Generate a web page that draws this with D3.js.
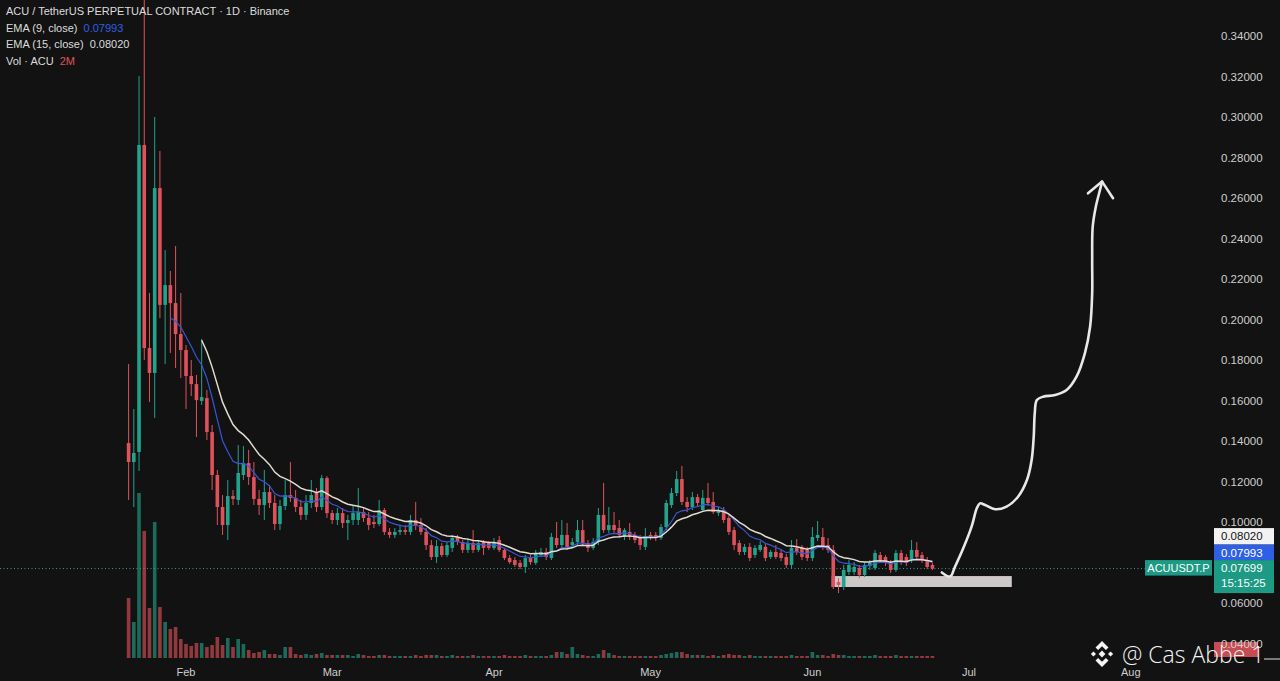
<!DOCTYPE html>
<html><head><meta charset="utf-8">
<script src="https://cdn.jsdelivr.net/npm/d3@7"></script>
<style>html,body{margin:0;padding:0;background:#121212;overflow:hidden}svg{display:block}</style>
</head><body>
<svg id="c" width="1280" height="681"></svg>
<script>
// ---------- DATA ----------
const startDay = Date.UTC(2025, 0, 21); // first daily candle
const opens = [
.1390,.1296,.1346,.2862,.1859,.1736,.2649,.2072,.2170,.2081,
.1928,.1849,.1721,.1681,.1598,.1612,.1444,.1232,.1074,.0985,
.1128,.1109,.1232,.1291,.1222,.1114,.1084,.1148,.1094,.0990,
.1079,.1133,.1119,.1074,.1035,.1094,.1143,.1074,.1217,.1044,
.1010,.1044,.0995,.1010,.1010,.1049,.1020,.1000,.0990,.1059,
.0951,.0936,.0951,.0960,.0951,.1010,.0985,.0951,.0886,.0827,
.0881,.0837,.0872,.0926,.0901,.0862,.0896,.0862,.0901,.0896,
.0872,.0911,.0862,.0822,.0812,.0798,.0778,.0822,.0798,.0837,
.0852,.0822,.0921,.0886,.0936,.0886,.0901,.0960,.0896,.0872,
.0901,.1035,.0960,.0985,.0970,.0926,.0951,.0936,.0921,.0877,
.0936,.0936,.0921,.0975,.1084,.1143,.1212,.1099,.1074,.1123,
.1059,.1119,.1099,.1044,.1059,.1020,.0960,.0896,.0852,.0877,
.0837,.0862,.0877,.0827,.0852,.0847,.0827,.0788,.0872,.0872,
.0862,.0822,.0921,.0926,.0886,.0862,.0704,.0679,.0753,.0753,
.0773,.0738,.0783,.0773,.0837,.0827,.0798,.0763,.0847,.0827,
.0812,.0862,.0837,.0812,.0788];
const highs = [
.1780,.1558,.3202,.3620,.2131,.3000,.2832,.2343,.2240,.2363,
.2131,.1874,.1800,.1726,.1904,.1652,.1479,.1257,.1133,.1207,
.1158,.1380,.1375,.1356,.1296,.1158,.1257,.1183,.1133,.1109,
.1207,.1296,.1158,.1109,.1133,.1207,.1168,.1232,.1227,.1059,
.1069,.1069,.1035,.1084,.1168,.1069,.1049,.1035,.1109,.1069,
.0970,.0970,.0985,.0985,.1035,.1099,.1020,.0970,.0911,.0911,
.0896,.0901,.0936,.0936,.0911,.0921,.0960,.0911,.0911,.0906,
.0921,.0931,.0872,.0837,.0827,.0812,.0837,.0837,.0862,.0872,
.0872,.0946,.1000,.1010,.0995,.0921,.1010,.1010,.0911,.0921,
.1069,.1193,.1074,.1049,.1010,.0970,.0995,.0951,.0936,.0970,
.0951,.0951,.0990,.1109,.1168,.1252,.1277,.1123,.1148,.1138,
.1158,.1193,.1148,.1074,.1074,.1035,.0975,.0911,.0891,.0896,
.0886,.0906,.0891,.0862,.0886,.0862,.0842,.0911,.0916,.0886,
.0877,.0975,.1005,.0970,.0921,.0886,.0723,.0788,.0812,.0802,
.0788,.0802,.0812,.0862,.0852,.0837,.0812,.0862,.0862,.0842,
.0911,.0901,.0852,.0827,.0798];
const lows = [
.1109,.1074,.1252,.1800,.1593,.1514,.2007,.1780,.1835,.1760,
.1711,.1558,.1622,.1420,.1578,.1405,.1158,.0985,.0936,.0911,
.1084,.1084,.1207,.1183,.1084,.1035,.1010,.1069,.0960,.0960,
.1059,.1099,.1049,.1010,.1010,.1069,.1049,.1059,.1020,.0990,
.0985,.0970,.0911,.0985,.0985,.1000,.0960,.0970,.0980,.0936,
.0921,.0921,.0936,.0936,.0936,.0960,.0936,.0862,.0812,.0798,
.0827,.0827,.0852,.0886,.0847,.0847,.0847,.0852,.0837,.0862,
.0862,.0852,.0812,.0793,.0778,.0768,.0748,.0788,.0788,.0827,
.0812,.0812,.0872,.0872,.0862,.0872,.0886,.0881,.0852,.0862,
.0886,.0946,.0946,.0946,.0921,.0911,.0911,.0896,.0862,.0862,
.0911,.0906,.0911,.0960,.1069,.1128,.1084,.1049,.1059,.1079,
.1049,.1079,.1040,.1030,.0995,.0936,.0862,.0837,.0837,.0807,
.0822,.0852,.0807,.0817,.0817,.0807,.0773,.0773,.0837,.0812,
.0807,.0807,.0906,.0862,.0847,.0669,.0649,.0664,.0738,.0738,
.0723,.0728,.0763,.0763,.0798,.0783,.0748,.0753,.0788,.0783,
.0798,.0812,.0798,.0768,.0763];
const closes = [
.1296,.1341,.2862,.1859,.1736,.2649,.2072,.2170,.2081,.1928,
.1849,.1721,.1681,.1602,.1617,.1444,.1232,.1074,.0985,.1128,
.1114,.1242,.1291,.1222,.1114,.1084,.1148,.1094,.0990,.1079,
.1133,.1119,.1074,.1035,.1094,.1133,.1074,.1217,.1044,.1010,
.1044,.0995,.1010,.1044,.1049,.1020,.0985,.0990,.1059,.0951,
.0936,.0951,.0960,.0951,.1010,.0985,.0951,.0886,.0827,.0881,
.0837,.0886,.0921,.0901,.0862,.0896,.0862,.0896,.0872,.0872,
.0901,.0862,.0822,.0802,.0788,.0778,.0822,.0802,.0847,.0852,
.0827,.0926,.0886,.0936,.0877,.0901,.0960,.0896,.0872,.0901,
.1035,.0960,.0985,.0960,.0936,.0960,.0926,.0911,.0886,.0931,
.0926,.0921,.0975,.1094,.1143,.1212,.1099,.1074,.1123,.1094,
.1119,.1094,.1049,.1059,.1010,.0951,.0886,.0852,.0877,.0822,
.0872,.0886,.0822,.0852,.0827,.0822,.0788,.0872,.0852,.0827,
.0822,.0926,.0936,.0877,.0862,.0679,.0689,.0763,.0788,.0778,
.0738,.0788,.0798,.0847,.0812,.0798,.0763,.0847,.0802,.0798,
.0862,.0827,.0812,.0778,.0770];
const volumes = [ // millions
60,36,165,127,50,136,51,36,29,31,
19,14,12,15,15,11,13,21,13,20,
11,19,14,8,5,6,8,4,4,3,
11,11,4,3,4,3,4,5,3,3,
3,3,3,2,4,3,2,2,3,3,
2,2,2,2,2,3,2,3,3,3,
2,2,3,2,2,2,3,2,2,2,
2,2,3,2,2,2,3,2,2,2,
2,3,6,6,4,11,4,3,2,2,
4,8,5,3,2,2,2,2,2,2,
2,2,3,4,5,6,6,4,3,3,
3,2,3,2,3,4,3,3,2,3,
2,2,2,2,2,2,2,3,2,2,
2,6,3,3,2,4,3,3,2,2,
2,2,2,3,2,2,2,3,2,2,
2,2,2,2,2];
const priceTicks = [0.04,0.06,0.10,0.12,0.14,0.16,0.18,0.20,0.22,0.24,0.26,0.28,0.30,0.32,0.34,0.36];
const monthTicks = ["2025-02-01","2025-03-01","2025-04-01","2025-05-01","2025-06-01","2025-07-01","2025-08-01"];
const monthLabels = ["Feb","Mar","Apr","May","Jun","Jul","Aug"];
const legendTitle = "ACU / TetherUS PERPETUAL CONTRACT · 1D · Binance";
const ema9Shown = "0.07993", ema15Shown = "0.08020", lastShown = "0.07699", countdown = "15:15:25", volShown = "2M";
const symbolTag = "ACUUSDT.P";
// support zone [dayStart, dayEnd, priceLow, priceHigh]
const zone = [134.7, 169.2, 0.0679, 0.0733];
// hand-drawn projection [day offset, price]
const arrowPath = [[155.8,.0751],[157.4,.0731],[158.3,.0778],[159.9,.0870],[161.5,.0977],[162.5,.1068],[163.1,.1092],[164.1,.1084],[166.0,.1063],[168.2,.1076],[170.4,.1125],[172.1,.1207],[173.0,.1306],[173.4,.1421],[173.6,.1537],[174.0,.1602],[175.2,.1619],[177.5,.1627],[179.7,.1652],[181.6,.1718],[183.2,.1833],[184.2,.1964],[184.6,.2129],[184.6,.2294],[184.7,.2458],[185.3,.2557],[186.1,.2640],[186.5,.2681]];
const arrowHead = [[183.8,.2623],[186.5,.2681],[188.6,.2599]];

// ---------- SCALES ----------
const DAY = 864e5;
const dayDate = d => new Date(startDay + d * DAY);
const x = d3.scaleUtc().domain([dayDate(0), dayDate(192)]).range([128.6, 1130.8]);
const y = d3.scaleLinear().domain([0.06, 0.34]).range([603, 36]);
const yv = d3.scaleLinear().domain([0, 200]).range([658, 458]);
const X = d => x(dayDate(d));

const GREEN = "#22a38c", RED = "#e0525b";
const svg = d3.select("#c");
svg.append("rect").attr("width",1280).attr("height",681).attr("fill","#121212");

const candles = opens.map((o,i)=>({i, o, h:highs[i], l:lows[i], c:closes[i], v:volumes[i], up: closes[i] >= o}));

// EMA
function ema(vals, n){
  const out = []; const k = 2/(n+1); let prev = null;
  vals.forEach((v,i)=>{
    if (i < n-1) return;
    if (prev === null) prev = d3.mean(vals.slice(0,n));
    else prev = v*k + prev*(1-k);
    out.push({i, v: prev});
  });
  return out;
}
const ema9 = ema(closes, 9), ema15 = ema(closes, 15);

// volume
const bw = 3.6;
svg.append("g").selectAll("rect").data(candles).join("rect")
  .attr("x", d => X(d.i) - bw/2).attr("width", bw)
  .attr("y", d => yv(d.v)).attr("height", d => yv(0) - yv(d.v))
  .attr("fill", d => d.up ? GREEN : RED).attr("opacity", 0.62);

// support zone
svg.append("rect")
  .attr("x", X(zone[0])).attr("width", X(zone[1]) - X(zone[0]))
  .attr("y", y(zone[3])).attr("height", y(zone[2]) - y(zone[3]))
  .attr("fill", "#cdc9c9");

// current price dotted line
svg.append("line").attr("x1",0).attr("x2",1214).attr("y1",y(closes[closes.length-1])).attr("y2",y(closes[closes.length-1]))
  .attr("stroke","#26a69a").attr("stroke-width",1).attr("stroke-dasharray","1,2.5");

// candles
const cg = svg.append("g");
cg.selectAll("line").data(candles).join("line")
  .attr("x1", d=>X(d.i)).attr("x2", d=>X(d.i))
  .attr("y1", d=>y(d.h)).attr("y2", d=>y(d.l))
  .attr("stroke", d=>d.up?GREEN:RED).attr("stroke-width",1);
cg.selectAll("rect").data(candles).join("rect")
  .attr("x", d=>X(d.i)-bw/2).attr("width", bw)
  .attr("y", d=>y(Math.max(d.o,d.c)))
  .attr("height", d=>Math.max(1, Math.abs(y(d.o)-y(d.c))))
  .attr("fill", d=>d.up?GREEN:RED);

// EMA lines
const ln = d3.line().x(d=>X(d.i)).y(d=>y(d.v));
svg.append("path").attr("d", ln(ema9)).attr("fill","none").attr("stroke","#3557d6").attr("stroke-width",1.2);
svg.append("path").attr("d", ln(ema15)).attr("fill","none").attr("stroke","#e2dbd2").attr("stroke-width",1.5);

// hand drawn projection
const al = d3.line().x(d=>X(d[0])).y(d=>y(d[1])).curve(d3.curveCatmullRom.alpha(0.5));
svg.append("path").attr("d", al(arrowPath)).attr("fill","none").attr("stroke","#e8e8e8").attr("stroke-width",2.6).attr("stroke-linecap","round").attr("stroke-linejoin","round");
svg.append("path").attr("d", d3.line().x(d=>X(d[0])).y(d=>y(d[1]))(arrowHead)).attr("fill","none").attr("stroke","#e8e8e8").attr("stroke-width",2.6).attr("stroke-linecap","round").attr("stroke-linejoin","round");

const FONT = "'Liberation Sans', Arial, sans-serif";
// red volume tag at bottom right
svg.append("rect").attr("x",1214).attr("y",642).attr("width",44).attr("height",15).attr("fill","#d9545a").attr("opacity",0.9);

// price axis labels
svg.append("g").selectAll("text").data(priceTicks).join("text")
  .attr("x", 1221).attr("y", d=>y(d)).attr("dy","0.36em")
  .attr("font-family",FONT).attr("font-size",11.5).attr("fill","#cfcfcf")
  .text(d=>d.toFixed(5));

// month labels
svg.append("g").selectAll("text").data(monthTicks).join("text")
  .attr("x", d=>x(new Date(d+"T00:00:00Z"))).attr("y", 676)
  .attr("text-anchor","middle").attr("font-family",FONT).attr("font-size",11).attr("fill","#cfcfcf")
  .text((d,i)=>monthLabels[i]);

// right tags
const yc = y(closes[closes.length-1]);
const tags = [
  {y0: yc-40.5, h:16.5, fill:"#f2f2f2", tc:"#141414", lines:[ema15Shown]},
  {y0: yc-24, h:15.5, fill:"#2f5fe4", tc:"#ffffff", lines:[ema9Shown]},
  {y0: yc-8.5, h:33, fill:"#1c9a84", tc:"#ffffff", lines:[lastShown, countdown]}
];
tags.forEach(t=>{
  svg.append("rect").attr("x",1214).attr("y",t.y0).attr("width",60).attr("height",t.h).attr("fill",t.fill);
  t.lines.forEach((s,k)=>{
    svg.append("text").attr("x",1221).attr("y",t.y0+8+k*15).attr("dy","0.36em")
      .attr("font-family",FONT).attr("font-size",11.5).attr("fill",t.tc).text(s);
  });
});
svg.append("rect").attr("x",1145).attr("y",yc-8.5).attr("width",67).attr("height",15.5).attr("fill","#1c9a84");
svg.append("text").attr("x",1178.5).attr("y",yc-0.5).attr("dy","0.36em").attr("text-anchor","middle")
  .attr("font-family",FONT).attr("font-size",11).attr("fill","#ffffff").text(symbolTag);

// legend
const lg = svg.append("g").attr("font-family",FONT).attr("font-size",11).attr("fill","#dcdcdc");
lg.append("text").attr("x",6).attr("y",15).text(legendTitle);
const l2 = lg.append("text").attr("x",6).attr("y",31.5);
l2.append("tspan").text("EMA (9, close)");
l2.append("tspan").attr("dx",6).attr("fill","#2f5fe4").text(ema9Shown);
const l3 = lg.append("text").attr("x",6).attr("y",48);
l3.append("tspan").text("EMA (15, close)");
l3.append("tspan").attr("dx",6).text(ema15Shown);
const l4 = lg.append("text").attr("x",6).attr("y",64.5);
l4.append("tspan").text("Vol · ACU");
l4.append("tspan").attr("dx",6).attr("fill","#e0525b").text(volShown);

// watermark
const wm = svg.append("g").attr("transform","translate(1102,654)").attr("fill","#f4f4f4");
const s = 13;
const dia = (cx,cy,r)=>`M${cx},${cy-r}L${cx+r},${cy}L${cx},${cy+r}L${cx-r},${cy}Z`;
wm.append("path").attr("d", dia(0,0,0.26*s));
wm.append("path").attr("d", dia(-0.66*s,0,0.2*s));
wm.append("path").attr("d", dia(0.66*s,0,0.2*s));
wm.append("path").attr("d", `M0,${-s}L${0.5*s},${-0.5*s}L${0.3*s},${-0.3*s}L0,${-0.6*s}L${-0.3*s},${-0.3*s}L${-0.5*s},${-0.5*s}Z`);
wm.append("path").attr("d", `M0,${s}L${0.5*s},${0.5*s}L${0.3*s},${0.3*s}L0,${0.6*s}L${-0.3*s},${0.3*s}L${-0.5*s},${0.5*s}Z`);
svg.append("text").attr("x",1122).attr("y",663).attr("font-family","'Open Sans', 'Liberation Sans', sans-serif")
  .attr("font-weight",300).attr("font-size",23).attr("fill","#f4f4f4").text("@ Cas Abbe 1");
svg.append("line").attr("x1",1264).attr("x2",1280).attr("y1",659).attr("y2",659).attr("stroke","#e0e0e0").attr("stroke-width",1);
</script>
</body></html>
